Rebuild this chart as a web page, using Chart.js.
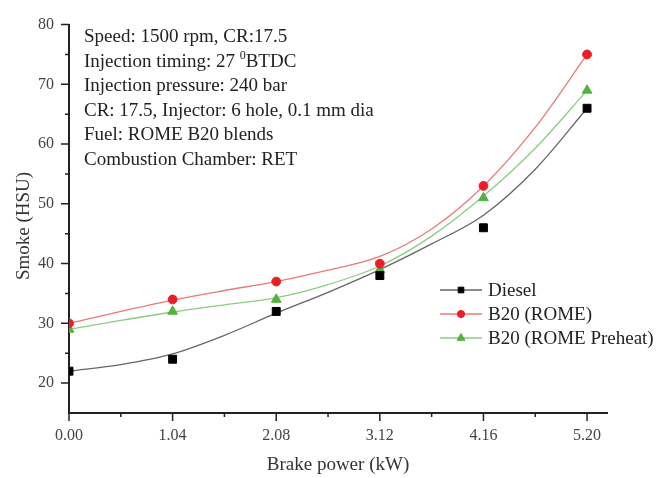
<!DOCTYPE html>
<html lang="en">
<head>
    <meta charset="UTF-8">
    <title>Smoke vs Brake power</title>
    <script src="https://cdn.jsdelivr.net/npm/chart.js"></script>
    <style>
        body {
            margin: 0;
            background: #ffffff;
        }
        #wrap {
            width: 666px;
            height: 478px;
        }
    </style>
</head>
<body>

<div id="wrap"><canvas id="smokeChart" width="666" height="478"></canvas></div>

<script>
    // Measured points
    const power = [0, 1.04, 2.08, 3.12, 4.16, 5.20];
    const dieselPts = [22, 24, 32, 38, 46, 66];
    const romePts = [30, 34, 37, 40, 53, 75];
    const preheatPts = [29, 32, 34, 39, 51, 69];

    // Fitted curves (they don't pass through every point)
    const fitPower = [0, 0.52, 1.04, 1.56, 2.08, 2.60, 3.12, 3.64, 4.16, 4.68, 5.20];
    const dieselFit = [22, 23.1, 24.9, 28, 31.7, 35.2, 39, 43.3, 48.1, 55.8, 66];
    const romeFit = [30, 32, 33.9, 35.5, 37, 38.9, 41.2, 45.8, 53, 62.8, 75];
    const preheatFit = [29, 30.5, 31.9, 33.1, 34.3, 36.5, 39.6, 44.6, 51.3, 59.3, 69];

    const xTicks = [0, 1.04, 2.08, 3.12, 4.16, 5.20];
    const xMinor = [0.52, 1.56, 2.60, 3.64, 4.68];
    const yTicks = [20, 30, 40, 50, 60, 70, 80];
    const yMinor = [25, 35, 45, 55, 65, 75];

    const notes = [
        'Speed: 1500 rpm, CR:17.5',
        'Injection timing: 27 |0|BTDC',
        'Injection pressure: 240 bar',
        'CR: 17.5, Injector: 6 hole, 0.1 mm dia',
        'Fuel: ROME B20 blends',
        'Combustion Chamber: RET'
    ];

    const SERIF = '"Liberation Serif", "DejaVu Serif", serif';

    const series = [
        { label: 'Diesel', pts: dieselPts, fit: dieselFit, mark: '#000000', line: '#666666', style: 'rect', r: 5.6, lr: 4 },
        { label: 'B20 (ROME)', pts: romePts, fit: romeFit, mark: '#ec1c24', line: '#e87a7a', style: 'circle', r: 4.4, lr: 3.6 },
        { label: 'B20 (ROME Preheat)', pts: preheatPts, fit: preheatFit, mark: '#52b140', line: '#8ccc80', style: 'triangle', r: 5.6, lr: 4.6 }
    ];

    const toXY = (xs, arr) => arr.map((v, i) => ({ x: xs[i], y: v }));

    const datasets = [];
    // markers first so they sit on top of the curves
    series.forEach(s => {
        datasets.push({
            label: s.label,
            data: toXY(power, s.pts),
            showLine: false,
            pointStyle: s.style,
            pointRadius: s.r,
            pointHoverRadius: s.r,
            pointBackgroundColor: s.mark,
            pointBorderColor: s.mark,
            pointBorderWidth: 1
        });
    });
    series.forEach(s => {
        datasets.push({
            label: s.label + ' fit',
            data: toXY(fitPower, s.fit),
            showLine: true,
            borderColor: s.line,
            borderWidth: 1.3,
            pointRadius: 0,
            cubicInterpolationMode: 'monotone'
        });
    });

    // ticks, notes, legend and axis titles
    const decorations = {
        id: 'decorations',
        afterDraw(chart) {
            const ctx = chart.ctx;
            const xs = chart.scales.x;
            const ys = chart.scales.y;
            const area = chart.chartArea;
            ctx.save();

            // tick marks (outward)
            ctx.strokeStyle = '#222';
            ctx.lineWidth = 1.5;
            ctx.beginPath();
            xTicks.forEach(v => {
                const px = xs.getPixelForValue(v);
                ctx.moveTo(px, area.bottom);
                ctx.lineTo(px, area.bottom + 8);
            });
            xMinor.forEach(v => {
                const px = xs.getPixelForValue(v);
                ctx.moveTo(px, area.bottom);
                ctx.lineTo(px, area.bottom + 4);
            });
            yTicks.forEach(v => {
                const py = ys.getPixelForValue(v);
                ctx.moveTo(area.left, py);
                ctx.lineTo(area.left - 8, py);
            });
            yMinor.forEach(v => {
                const py = ys.getPixelForValue(v);
                ctx.moveTo(area.left, py);
                ctx.lineTo(area.left - 4, py);
            });
            ctx.stroke();

            // annotation block
            ctx.fillStyle = '#222';
            ctx.textBaseline = 'alphabetic';
            ctx.textAlign = 'left';
            notes.forEach((line, i) => {
                const y = 42 + i * 24.6;
                let x = 84;
                line.split('|').forEach((part, j) => {
                    if (j === 1) {
                        ctx.font = '12px ' + SERIF;
                        ctx.fillText(part, x, y - 8);
                    } else {
                        ctx.font = '19px ' + SERIF;
                        ctx.fillText(part, x, y);
                    }
                    x += ctx.measureText(part).width;
                });
            });

            // legend
            ctx.font = '19px ' + SERIF;
            ctx.textBaseline = 'middle';
            series.forEach((s, i) => {
                const y = 290 + i * 24;
                ctx.strokeStyle = s.line;
                ctx.lineWidth = 1.3;
                ctx.beginPath();
                ctx.moveTo(440, y);
                ctx.lineTo(482, y);
                ctx.stroke();
                ctx.fillStyle = s.mark;
                ctx.strokeStyle = s.mark;
                ctx.lineWidth = 1;
                Chart.helpers.drawPoint(ctx, { pointStyle: s.style, radius: s.lr, borderWidth: 1, rotation: 0 }, 461, y);
                ctx.fillStyle = '#222';
                ctx.fillText(s.label, 488, y + 1);
            });

            // axis titles
            ctx.fillStyle = '#333';
            ctx.font = '19px ' + SERIF;
            ctx.textAlign = 'center';
            ctx.textBaseline = 'middle';
            ctx.fillText('Brake power (kW)', (area.left + area.right) / 2, 465);
            ctx.translate(24, 226);
            ctx.rotate(-Math.PI / 2);
            ctx.fillText('Smoke (HSU)', 0, 0);

            ctx.restore();
        }
    };

    const tickFont = { family: SERIF, size: 16 };

    new Chart(document.getElementById('smokeChart').getContext('2d'), {
        type: 'scatter',
        data: { datasets: datasets },
        options: {
            responsive: false,
            animation: false,
            events: [],
            layout: { padding: { top: 15, right: 59, left: 0, bottom: 0 } },
            plugins: {
                legend: { display: false },
                tooltip: { enabled: false }
            },
            scales: {
                x: {
                    type: 'linear',
                    min: 0,
                    max: 5.4,
                    afterBuildTicks: s => { s.ticks = xTicks.map(v => ({ value: v })); },
                    afterFit: s => { s.height = 65; },
                    grid: { display: false, drawTicks: false },
                    border: { display: true, color: '#222', width: 2 },
                    ticks: {
                        font: tickFont,
                        color: '#444',
                        padding: 13,
                        maxRotation: 0,
                        autoSkip: false,
                        callback: v => v.toFixed(2)
                    }
                },
                y: {
                    min: 15,
                    max: 80,
                    afterBuildTicks: s => { s.ticks = yTicks.map(v => ({ value: v })); },
                    afterFit: s => { s.width = 69; },
                    grid: { display: false, drawTicks: false },
                    border: { display: true, color: '#222', width: 2 },
                    ticks: {
                        font: tickFont,
                        color: '#444',
                        padding: 15,
                        autoSkip: false
                    }
                }
            }
        },
        plugins: [decorations]
    });
</script>

</body>
</html>
